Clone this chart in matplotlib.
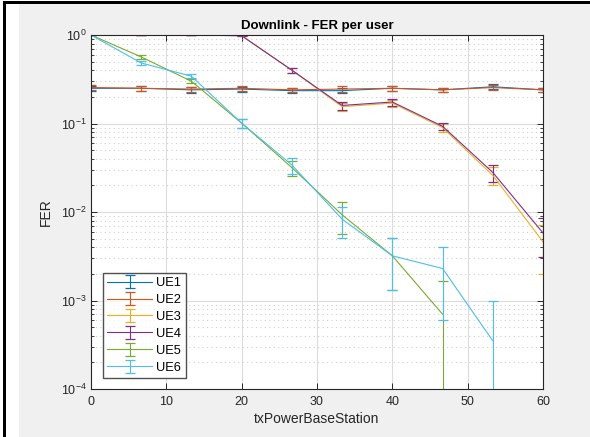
import numpy as np
import matplotlib
matplotlib.use("Agg")
import matplotlib.pyplot as plt
from matplotlib.patches import Rectangle
from matplotlib.ticker import LogLocator, NullFormatter, MultipleLocator

plt.rcParams['font.family'] = ['Liberation Sans', 'DejaVu Sans']
plt.rcParams['mathtext.default'] = 'regular'

# Transmit power sweep (dBm)
tx_power = [0, 20/3, 40/3, 20, 80/3, 100/3, 40, 140/3, 160/3, 60]

# Frame error rate per user, with error-bar half-widths
fer_ue1 = [0.25, 0.25, 0.24, 0.245, 0.235, 0.235, 0.25, 0.24, 0.26, 0.24]
err_ue1 = [0.018, 0.015, 0.016, 0.016, 0.015, 0.015, 0.016, 0.015, 0.016, 0.015]
fer_ue2 = [0.255, 0.25, 0.245, 0.25, 0.24, 0.245, 0.25, 0.24, 0.255, 0.24]
err_ue2 = [0.018, 0.015, 0.016, 0.016, 0.015, 0.018, 0.016, 0.015, 0.016, 0.015]
fer_ue3 = [1.0, 1.0, 1.0, 0.985, 0.40, 0.155, 0.17, 0.09, 0.026, 0.0046]
err_ue3 = [0.0, 0.0, 0.0, 0.01, 0.026, 0.017, 0.016, 0.009, 0.006, 0.0026]
fer_ue4 = [1.0, 1.0, 1.0, 0.98, 0.40, 0.16, 0.175, 0.093, 0.028, 0.0058]
err_ue4 = [0.0, 0.0, 0.0, 0.01, 0.026, 0.017, 0.016, 0.009, 0.0062, 0.0027]
fer_ue5 = [1.0, 0.565, 0.30, 0.101, 0.0317, 0.0093, 0.0032, 0.0007, np.nan, np.nan]
err_ue5 = [0.0, 0.025, 0.015, 0.011, 0.0063, 0.0036, 0.0019, 0.00097, 0.0, 0.0]
fer_ue6 = [1.0, 0.483, 0.342, 0.101, 0.034, 0.0083, 0.0032, 0.0023, 0.00035, np.nan]
err_ue6 = [0.0, 0.021, 0.018, 0.011, 0.0068, 0.0032, 0.0019, 0.0017, 0.00065, 0.0]

series = [
    ("UE1", fer_ue1, err_ue1, "#0072BD"),
    ("UE2", fer_ue2, err_ue2, "#D95319"),
    ("UE3", fer_ue3, err_ue3, "#EDB120"),
    ("UE4", fer_ue4, err_ue4, "#7E2F8E"),
    ("UE5", fer_ue5, err_ue5, "#77AC30"),
    ("UE6", fer_ue6, err_ue6, "#4DBEEE"),
]

W, H = 590, 437
fig = plt.figure(figsize=(W / 100, H / 100), dpi=100, facecolor="#f0f0f0")

# window border: white margin and black edges
fig.patches.append(Rectangle((0, 0), 19 / W, 1, transform=fig.transFigure,
                             facecolor="white", edgecolor="none", zorder=0))
fig.patches.append(Rectangle((0, 1 - 1 / H), 1, 1 / H, transform=fig.transFigure,
                             facecolor="white", edgecolor="none", zorder=0))
fig.patches.append(Rectangle((3 / W, 0), 3 / W, 1 - 1 / H, transform=fig.transFigure,
                             facecolor="black", edgecolor="none", zorder=1))
fig.patches.append(Rectangle((3 / W, 1 - 4 / H), 1, 3 / H, transform=fig.transFigure,
                             facecolor="black", edgecolor="none", zorder=1))

ax = fig.add_axes([91 / W, 1 - 389 / H, (543 - 91) / W, (389 - 35) / H])
ax.set_facecolor("white")
ax.set_yscale("log", nonpositive="clip")

for name, y, e, c in series:
    ax.errorbar(tx_power, y, yerr=e, color=c, lw=0.8, elinewidth=0.8,
                capsize=3.6, capthick=0.9, label=name)

ax.set_xlim(0, 60)
ax.set_ylim(1e-4, 1)
ax.xaxis.set_major_locator(MultipleLocator(10))
ax.yaxis.set_major_locator(LogLocator(base=10, numticks=10))
ax.yaxis.set_minor_locator(LogLocator(base=10, subs=np.arange(2, 10), numticks=20))
ax.yaxis.set_minor_formatter(NullFormatter())

ax.grid(True, which="major", color="#dcdcdc", lw=0.8, ls="-")
ax.grid(True, which="minor", axis="y", color="#cfcfcf", lw=0.8, ls=(0, (1, 3)))
ax.set_axisbelow(True)

dark = "#262626"
for s in ax.spines.values():
    s.set_color(dark)
    s.set_linewidth(0.8)
ax.tick_params(which="both", direction="in", top=True, right=True,
               colors=dark, labelsize=9)
ax.tick_params(which="major", length=4, width=0.7)
ax.tick_params(which="minor", length=2.2, width=0.6)
ax.tick_params(axis="x", pad=5)
ax.tick_params(axis="y", pad=3)

ax.set_title("Downlink - FER per user", fontsize=9.5, fontweight="bold",
             color="black", pad=4)
ax.set_xlabel("txPowerBaseStation", fontsize=10, color=dark, labelpad=3)
ax.set_ylabel("FER", fontsize=10, color=dark, labelpad=6)

leg = ax.legend(loc="lower left", bbox_to_anchor=(0.026, 0.03), fontsize=9.3,
                frameon=True, fancybox=False, handlelength=3.5,
                handletextpad=0.3, borderpad=0.35, labelspacing=0.38,
                borderaxespad=0.0)
leg.get_frame().set_edgecolor(dark)
leg.get_frame().set_linewidth(1.0)

fig.savefig("out.png", dpi=100, facecolor=fig.get_facecolor())
